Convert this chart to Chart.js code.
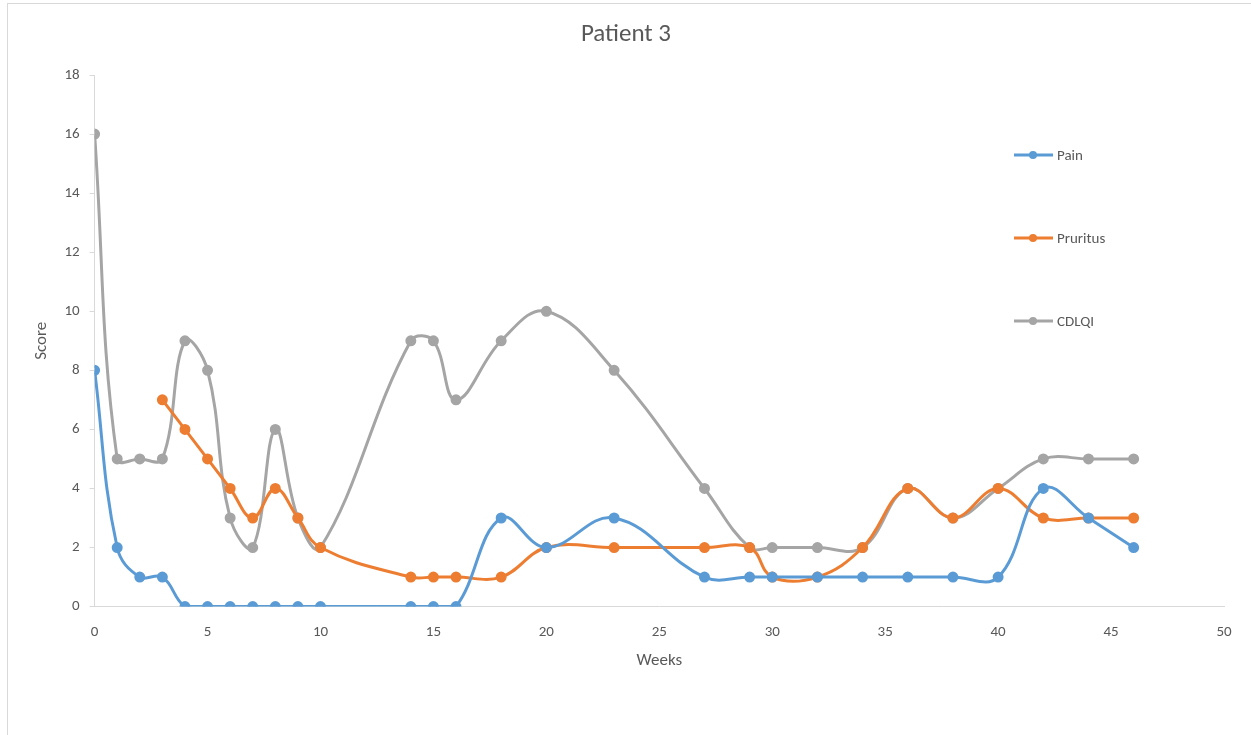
<!DOCTYPE html>
<html>
<head>
<meta charset="utf-8">
<script src="https://cdn.jsdelivr.net/npm/chart.js@4"></script>
<style>
  html, body { margin: 0; padding: 0; background: #fff; }
  #frame { position: absolute; left: 7px; top: 3px; width: 1260px; height: 740px; border-left: 1px solid #d9d9d9; border-top: 1px solid #d9d9d9; }
  #wrap { position: absolute; left: 0; top: 0; width: 1251px; height: 735px; }
</style>
</head>
<body>
<div id="frame"></div>
<div id="wrap"><canvas id="patientChart"></canvas></div>
<script>
// weeks & scores
const painWeeks = [0, 1, 2, 3, 4, 5, 6, 7, 8, 9, 10, 14, 15, 16, 18, 20, 23, 27, 29, 30, 32, 34, 36, 38, 40, 42, 44, 46];
const painScores = [8, 2, 1, 1, 0, 0, 0, 0, 0, 0, 0, 0, 0, 0, 3, 2, 3, 1, 1, 1, 1, 1, 1, 1, 1, 4, 3, 2];

const pruritusWeeks = [3, 4, 5, 6, 7, 8, 9, 10, 14, 15, 16, 18, 20, 23, 27, 29, 30, 32, 34, 36, 38, 40, 42, 44, 46];
const pruritusScores = [7, 6, 5, 4, 3, 4, 3, 2, 1, 1, 1, 1, 2, 2, 2, 2, 1, 1, 2, 4, 3, 4, 3, 3, 3];

const cdlqiWeeks = [0, 1, 2, 3, 4, 5, 6, 7, 8, 9, 10, 14, 15, 16, 18, 20, 23, 27, 29, 30, 32, 34, 36, 38, 40, 42, 44, 46];
const cdlqiScores = [16, 5, 5, 5, 9, 8, 3, 2, 6, 3, 2, 9, 9, 7, 9, 10, 8, 4, 2, 2, 2, 2, 4, 3, 4, 5, 5, 5];

const seriesNames = ['Pain', 'Pruritus', 'CDLQI'];
const seriesColors = ['#5B9BD5', '#ED7D31', '#A5A5A5'];

const FONT = "Carlito, 'Liberation Sans Narrow', Lato, sans-serif";
const TEXT = '#595959';

const toPoints = (xs, ys) => xs.map((x, i) => ({ x: x, y: ys[i] }));

const makeSet = (i, xs, ys) => ({
    label: seriesNames[i],
    data: toPoints(xs, ys),
    borderColor: seriesColors[i],
    backgroundColor: seriesColors[i],
    borderWidth: 3,
    pointRadius: 4,
    pointHoverRadius: 4,
    showLine: true,
    tension: 0.4,
    cubicInterpolationMode: 'default'
});

// legend drawn by hand so it sits inside the plot like the original
const sideLegend = {
    id: 'sideLegend',
    afterDraw(chart) {
        const ctx = chart.ctx;
        const tops = [155, 238, 321];
        ctx.save();
        chart.data.datasets.forEach((ds, i) => {
            const y = tops[i];
            ctx.strokeStyle = ds.borderColor;
            ctx.lineWidth = 3;
            ctx.beginPath();
            ctx.moveTo(1014, y);
            ctx.lineTo(1053, y);
            ctx.stroke();
            ctx.fillStyle = ds.borderColor;
            ctx.beginPath();
            ctx.arc(1033, y, 4, 0, Math.PI * 2);
            ctx.fill();
            ctx.fillStyle = TEXT;
            ctx.font = '15px ' + FONT;
            ctx.textBaseline = 'middle';
            ctx.fillText(ds.label, 1057, y + 1);
        });
        ctx.restore();
    }
};

const chart = new Chart(document.getElementById('patientChart'), {
    type: 'scatter',
    data: {
        datasets: [
            makeSet(0, painWeeks, painScores),
            makeSet(1, pruritusWeeks, pruritusScores),
            makeSet(2, cdlqiWeeks, cdlqiScores)
        ]
    },
    options: {
        responsive: true,
        maintainAspectRatio: false,
        animation: false,
        layout: {
            padding: { top: 0, right: 27, bottom: 60, left: 28 }
        },
        plugins: {
            legend: { display: false },
            tooltip: { enabled: false },
            title: {
                display: true,
                text: 'Patient 3',
                color: TEXT,
                font: { family: FONT, size: 25, weight: 'normal' },
                padding: { top: 20, bottom: 25 }
            }
        },
        scales: {
            x: {
                type: 'linear',
                min: 0,
                max: 50,
                border: { color: '#d9d9d9', width: 1 },
                grid: { display: false },
                ticks: { stepSize: 5, color: TEXT, font: { family: FONT, size: 15 }, padding: 9 },
                title: {
                    display: true,
                    text: 'Weeks',
                    color: TEXT,
                    font: { family: FONT, size: 17 },
                    padding: { top: 0 }
                }
            },
            y: {
                min: 0,
                max: 18,
                border: { color: '#d9d9d9', width: 1 },
                grid: { drawOnChartArea: false, drawTicks: true, tickLength: 5, color: '#d9d9d9' },
                ticks: { stepSize: 2, color: TEXT, font: { family: FONT, size: 15 }, padding: 10 },
                title: {
                    display: true,
                    text: 'Score',
                    color: TEXT,
                    font: { family: FONT, size: 17 },
                    padding: { bottom: 2 }
                }
            }
        }
    },
    plugins: [sideLegend]
});
</script>
</body>
</html>
